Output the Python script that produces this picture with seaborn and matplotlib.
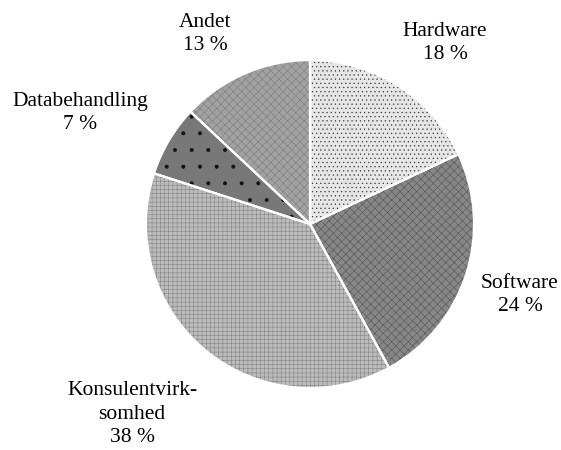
import matplotlib
matplotlib.use("Agg")
import matplotlib.pyplot as plt
import seaborn as sns

# data
categories = ["Hardware", "Software", "Konsulentvirksomhed", "Databehandling", "Andet"]
display_names = ["Hardware", "Software", "Konsulentvirk-\nsomhed", "Databehandling", "Andet"]
shares = [18, 24, 38, 7, 13]

# styling per slice (grey tone + dotted texture)
face_colors = ["#e6e6e6", "#878787", "#bcbcbc", "#787878", "#a2a2a2"]
hatch_colors = ["#3a3a3a", "#555555", "#858585", "#111111", "#7c7c7c"]
hatches = ["....", "xxxx", "++++", ".", "xxxx"]

# label centres in data units (pie radius = 1)
label_xy = [(0.823, 1.104), (1.280, -0.433), (-1.085, -1.159),
            (-1.402, 0.677), (-0.640, 1.159)]

sns.set_theme(style="white")
plt.rcParams["font.family"] = ["Liberation Serif", "DejaVu Serif"]
plt.rcParams["hatch.linewidth"] = 0.4

fig = plt.figure(figsize=(5.61, 4.5), dpi=100)
ax = fig.add_axes([0, 0, 1, 1])

wedges, _ = ax.pie(shares, startangle=90, counterclock=False,
                   colors=face_colors, wedgeprops=dict(linewidth=0))
for w, hc, h in zip(wedges, hatch_colors, hatches):
    w.set_edgecolor(hc)
    w.set_linewidth(0)
    w.set_hatch(h)

# white separators on top
ax.pie(shares, startangle=90, counterclock=False,
       wedgeprops=dict(facecolor="none", edgecolor="white", linewidth=1.6))

for name, val, (x, y) in zip(display_names, shares, label_xy):
    ax.text(x, y, f"{name}\n{val} %", ha="center", va="center",
            fontsize=15.5, linespacing=1.3, color="black")

ax.set_xlim(-1.890, 1.530)
ax.set_ylim(-1.378, 1.366)
ax.set_aspect("auto")
ax.axis("off")

fig.savefig("out.png", dpi=100)
